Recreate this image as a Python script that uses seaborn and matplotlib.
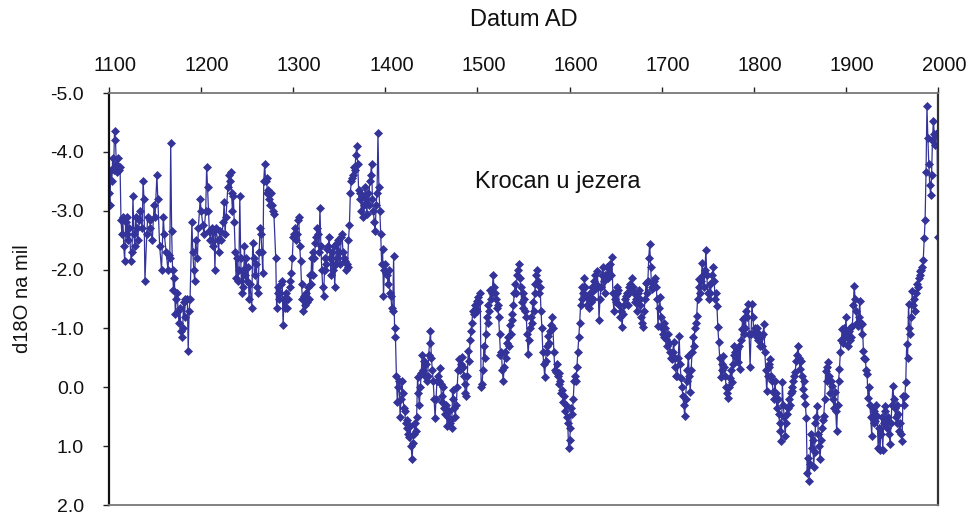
import matplotlib
matplotlib.use("Agg")
import matplotlib.pyplot as plt
import matplotlib.transforms as mtransforms
from matplotlib.ticker import FormatStrFormatter
import pandas as pd
import seaborn as sns

# ---------------- data ----------------
years_1100s = [1100, 1101, 1102, 1103, 1104, 1105, 1106, 1107, 1108, 1109,
               1110, 1111, 1112, 1113, 1114, 1115, 1116, 1117, 1118, 1119,
               1120, 1121, 1122, 1124, 1125, 1126, 1127, 1128, 1129, 1130,
               1131, 1133, 1134, 1136, 1137, 1138, 1139, 1141, 1142, 1144,
               1145, 1147, 1149, 1150, 1152, 1153, 1155, 1157, 1159, 1160,
               1162, 1164, 1165, 1166, 1167, 1168, 1169, 1170, 1171, 1172,
               1173, 1174, 1175, 1176, 1177, 1178, 1179, 1180, 1181, 1182,
               1183, 1185, 1186, 1187, 1188, 1190, 1191, 1192, 1193, 1194,
               1196, 1197, 1199]
d18o_1100s = [-3.3, -3.1, -3.7, -3.5, -3.9, -3.7, -4.35, -4.2, -3.8, -3.65,
              -3.9, -3.7, -3.75, -2.85, -2.6, -2.9, -2.4, -2.15, -2.8, -2.6,
              -2.9, -2.5, -2.7, -2.15, -2.3, -3.25, -2.6, -2.4, -2.9, -2.7,
              -2.5, -2.85, -3.0, -2.7, -3.5, -3.2, -1.8, -2.6, -2.9, -2.85,
              -2.7, -2.5, -3.1, -2.9, -3.6, -3.2, -2.4, -2.0, -2.9, -2.6,
              -2.3, -2.0, -2.25, -2.2, -4.15, -2.65, -2.0, -1.65, -1.85, -1.25,
              -1.5, -1.6, -1.3, -1.1, -1.35, -0.95, -0.85, -1.0, -1.45, -1.2,
              -1.5, -1.5, -0.62, -1.3, -1.5, -2.8, -2.3, -2.0, -1.8, -2.5,
              -2.2, -2.7, -3.2]

years_1200s = [1200, 1202, 1203, 1205, 1206, 1207, 1208, 1209, 1210, 1212,
               1213, 1214, 1215, 1216, 1218, 1219, 1220, 1222, 1224, 1225,
               1226, 1227, 1229, 1230, 1231, 1232, 1233, 1234, 1235, 1236,
               1237, 1238, 1239, 1240, 1241, 1242, 1243, 1244, 1245, 1246,
               1247, 1248, 1249, 1250, 1251, 1252, 1253, 1255, 1256, 1257,
               1258, 1260, 1261, 1262, 1263, 1264, 1265, 1266, 1267, 1268,
               1269, 1270, 1271, 1272, 1273, 1274, 1275, 1276, 1277, 1278,
               1279, 1281, 1282, 1283, 1284, 1285, 1286, 1287, 1288, 1289,
               1290, 1291, 1292, 1293, 1294, 1296, 1297, 1298, 1299]
d18o_1200s = [-3.0, -2.75, -2.6, -3.0, -3.75, -3.4, -3.0, -2.65, -2.5, -2.7,
              -2.4, -2.65, -2.0, -2.7, -2.5, -2.3, -2.65, -2.5, -2.8, -3.15,
              -2.6, -2.9, -3.4, -3.6, -3.5, -3.65, -3.3, -3.0, -3.25, -2.8,
              -2.3, -1.85, -2.2, -1.8, -2.0, -3.25, -2.2, -1.6, -2.0, -1.7,
              -2.4, -1.9, -2.2, -1.8, -2.05, -1.5, -1.75, -1.35, -2.45, -2.2,
              -1.9, -2.1, -1.7, -1.6, -2.3, -2.7, -2.6, -2.3, -1.95, -3.5,
              -3.8, -3.5, -3.55, -3.3, -3.35, -3.2, -3.1, -3.3, -3.1, -3.0,
              -2.95, -2.2, -1.35, -1.6, -1.7, -1.5, -1.6, -1.75, -1.8, -1.05,
              -1.5, -1.35, -1.6, -1.35, -1.5, -1.7, -1.8, -1.95, -2.2]

years_1300s = [1300, 1301, 1302, 1303, 1304, 1305, 1306, 1307, 1308, 1309,
               1310, 1311, 1312, 1313, 1314, 1315, 1316, 1317, 1318, 1319,
               1320, 1321, 1322, 1323, 1324, 1325, 1326, 1327, 1328, 1329,
               1330, 1331, 1332, 1333, 1334, 1335, 1336, 1337, 1338, 1339,
               1340, 1341, 1342, 1343, 1344, 1345, 1346, 1347, 1348, 1349,
               1350, 1351, 1352, 1353, 1354, 1355, 1356, 1357, 1358, 1359,
               1360, 1361, 1362, 1363, 1364, 1365, 1366, 1367, 1368, 1369,
               1370, 1371, 1372, 1373, 1374, 1375, 1376, 1377, 1378, 1379,
               1380, 1381, 1382, 1383, 1384, 1385, 1386, 1387, 1388, 1389,
               1390, 1391, 1392, 1393, 1394, 1395, 1396, 1397, 1398, 1399]
d18o_1300s = [-2.55, -2.6, -2.7, -2.5, -2.6, -2.85, -2.9, -2.4, -2.15, -1.75,
              -1.5, -1.3, -1.55, -1.4, -1.6, -1.45, -1.7, -1.5, -1.9, -1.75,
              -2.2, -1.9, -2.3, -2.2, -2.45, -2.55, -2.7, -2.6, -2.3, -3.05,
              -2.4, -2.0, -1.7, -1.55, -2.0, -2.2, -2.1, -2.35, -2.4, -2.55,
              -2.2, -1.9, -2.3, -2.0, -2.4, -1.7, -2.1, -2.45, -2.2, -2.5,
              -2.3, -2.1, -2.55, -2.6, -2.3, -2.2, -2.15, -2.0, -2.1, -2.05,
              -2.5, -2.75, -3.3, -3.5, -3.55, -3.6, -3.75, -3.7, -3.95, -4.1,
              -3.8, -3.35, -3.2, -3.3, -3.0, -3.25, -2.9, -3.1, -3.4, -3.2,
              -2.95, -3.3, -3.1, -3.5, -3.6, -3.8, -3.2, -3.0, -2.8, -2.65,
              -3.1, -3.3, -4.32, -3.4, -3.0, -2.6, -2.1, -2.35, -1.55, -2.0]

years_1400s = [1400, 1401, 1402, 1403, 1404, 1405, 1406, 1407, 1408, 1409,
               1410, 1411, 1412, 1413, 1414, 1415, 1416, 1417, 1418, 1419,
               1420, 1421, 1422, 1423, 1424, 1425, 1426, 1427, 1428, 1429,
               1430, 1431, 1432, 1433, 1434, 1435, 1436, 1437, 1438, 1439,
               1440, 1441, 1442, 1443, 1444, 1445, 1446, 1447, 1448, 1449,
               1450, 1451, 1452, 1453, 1454, 1455, 1456, 1457, 1458, 1459,
               1460, 1461, 1462, 1463, 1464, 1465, 1466, 1467, 1468, 1469,
               1470, 1471, 1472, 1473, 1474, 1475, 1476, 1477, 1478, 1479,
               1480, 1481, 1482, 1483, 1484, 1485, 1486, 1487, 1488, 1489,
               1490, 1491, 1492, 1493, 1494, 1495, 1496, 1497, 1498, 1499]
d18o_1400s = [-2.1, -1.95, -1.9, -1.75, -2.0, -1.6, -1.55, -1.35, -1.3, -2.23,
              -1.0, -0.85, -0.2, 0.25, 0.0, -0.1, 0.5, 0.2, -0.1, 0.1,
              0.35, 0.4, 0.6, 0.55, 0.7, 0.8, 0.85, 0.65, 1.0, 1.22,
              0.95, 0.8, 0.6, 0.75, 0.5, -0.18, 0.1, 0.3, 0.0, -0.25,
              -0.55, -0.3, -0.45, -0.2, -0.4, -0.1, -0.2, -0.55, -0.75, -0.95,
              -0.5, -0.3, -0.1, 0.2, 0.52, 0.2, -0.1, -0.2, -0.1, -0.32,
              -0.05, 0.15, 0.25, 0.0, 0.35, 0.45, 0.3, 0.65, 0.5, 0.4,
              0.6, 0.55, 0.7, 0.05, 0.2, 0.35, 0.5, 0.3, 0.0, -0.3,
              -0.48, -0.3, -0.4, -0.52, -0.35, -0.2, -0.05, 0.1, 0.14, -0.2,
              -0.62, -0.45, -0.8, -0.95, -1.1, -1.3, -1.25, -1.4, -1.35, -1.46]

years_1500s = [1500, 1501, 1502, 1503, 1504, 1505, 1506, 1507, 1508, 1509,
               1510, 1511, 1512, 1513, 1514, 1515, 1516, 1517, 1518, 1519,
               1520, 1521, 1522, 1523, 1524, 1525, 1526, 1527, 1528, 1529,
               1530, 1531, 1532, 1533, 1534, 1535, 1536, 1537, 1538, 1539,
               1540, 1541, 1542, 1543, 1544, 1545, 1546, 1547, 1548, 1549,
               1550, 1551, 1552, 1553, 1554, 1555, 1556, 1557, 1558, 1559,
               1560, 1561, 1562, 1563, 1564, 1565, 1566, 1567, 1568, 1569,
               1570, 1571, 1572, 1573, 1574, 1575, 1576, 1577, 1578, 1579,
               1580, 1581, 1582, 1583, 1584, 1585, 1586, 1587, 1588, 1589,
               1590, 1591, 1592, 1593, 1594, 1595, 1596, 1597, 1598, 1599]
d18o_1500s = [-1.3, -1.53, -1.45, -1.6, 0.0, -0.05, -0.3, -0.7, -0.5, -0.9,
              -1.2, -1.1, -1.4, -1.3, -1.65, -1.5, -1.6, -1.9, -1.7, -1.6,
              -1.5, -1.35, -1.4, -1.2, -0.9, -0.55, -0.6, -0.3, -0.1, -0.35,
              -0.6, -0.5, -0.75, -0.85, -0.7, -1.05, -0.9, -1.15, -1.25, -1.4,
              -1.6, -1.75, -1.6, -1.9, -2.0, -2.1, -1.85, -1.7, -1.45, -1.6,
              -1.35, -1.5, -1.3, -1.2, -0.9, -0.57, -0.8, -1.0, -1.2, -1.1,
              -1.45, -1.3, -1.6, -1.75, -1.9, -2.0, -1.8, -1.6, -1.7, -1.3,
              -1.0, -0.6, -0.4, -0.18, -0.45, -0.7, -0.6, -0.87, -0.75, -0.95,
              -1.05, -1.2, -1.0, -0.6, -0.3, -0.26, -0.4, -0.2, -0.25, -0.05,
              -0.1, 0.1, 0.05, 0.25, 0.15, 0.4, 0.3, 0.5, 0.6, 1.04]

years_1600s = [1600, 1601, 1602, 1603, 1604, 1605, 1606, 1607, 1608, 1609,
               1610, 1611, 1612, 1613, 1614, 1615, 1616, 1617, 1618, 1619,
               1620, 1621, 1622, 1623, 1624, 1625, 1626, 1627, 1628, 1629,
               1630, 1631, 1632, 1633, 1634, 1635, 1636, 1637, 1638, 1639,
               1640, 1641, 1642, 1643, 1644, 1645, 1646, 1647, 1648, 1649,
               1650, 1651, 1652, 1653, 1654, 1655, 1656, 1657, 1658, 1659,
               1660, 1661, 1662, 1663, 1664, 1665, 1666, 1667, 1668, 1669,
               1670, 1671, 1672, 1673, 1674, 1675, 1676, 1677, 1678, 1679,
               1680, 1681, 1682, 1683, 1684, 1685, 1686, 1687, 1688, 1689,
               1690, 1691, 1692, 1693, 1694, 1695, 1696, 1697, 1698, 1699]
d18o_1600s = [0.9, 0.7, 0.36, 0.45, 0.2, -0.1, -0.2, -0.1, -0.35, -0.6,
              -0.85, -1.1, -1.4, -1.7, -1.5, -1.6, -1.85, -1.7, -1.55, -1.4,
              -1.55, -1.35, -1.6, -1.45, -1.7, -1.5, -1.8, -1.65, -1.9, -1.75,
              -1.97, -1.7, -1.15, -1.5, -1.7, -1.9, -2.05, -1.8, -1.6, -1.9,
              -1.85, -2.05, -1.85, -1.95, -2.1, -1.9, -2.22, -1.6, -1.3, -1.5,
              -1.45, -1.6, -1.7, -1.65, -1.4, -1.2, -1.3, -1.02, -1.25, -1.4,
              -1.5, -1.55, -1.6, -1.4, -1.7, -1.6, -1.75, -1.65, -1.85, -1.7,
              -1.6, -1.45, -1.5, -1.3, -1.6, -1.65, -1.5, -1.4, -1.2, -1.1,
              -1.02, -1.3, -1.5, -1.78, -1.6, -1.8, -2.2, -2.44, -2.05, -1.7,
              -1.67, -1.75, -1.8, -1.85, -1.7, -1.5, -1.04, -1.35, -1.53, -1.2]

years_1700s = [1700, 1701, 1702, 1703, 1704, 1705, 1706, 1707, 1708, 1709,
               1710, 1711, 1712, 1713, 1714, 1715, 1716, 1717, 1718, 1719,
               1720, 1721, 1722, 1723, 1724, 1725, 1726, 1727, 1728, 1729,
               1730, 1731, 1732, 1733, 1734, 1735, 1736, 1737, 1738, 1739,
               1740, 1741, 1742, 1743, 1744, 1745, 1746, 1747, 1748, 1749,
               1750, 1751, 1752, 1753, 1754, 1755, 1756, 1757, 1758, 1759,
               1760, 1761, 1762, 1763, 1764, 1765, 1766, 1767, 1768, 1769,
               1770, 1771, 1772, 1773, 1774, 1775, 1776, 1777, 1778, 1779,
               1780, 1781, 1782, 1783, 1784, 1785, 1786, 1787, 1788, 1789,
               1790, 1791, 1792, 1793, 1794, 1795, 1796, 1797, 1798, 1799]
d18o_1700s = [-1.0, -0.9, -1.1, -0.85, -1.0, -0.82, -0.7, -0.9, -0.75, -0.6,
              -0.5, -0.48, -0.6, -0.77, -0.5, -0.35, -0.2, -0.19, -0.5, -0.87,
              -0.4, -0.15, 0.0, 0.14, 0.3, 0.48, 0.2, -0.1, -0.3, -0.53,
              -0.2, 0.08, -0.3, -0.6, -0.85, -0.7, -1.0, -1.1, -1.21, -1.5,
              -1.7, -1.84, -1.6, -1.8, -2.12, -1.9, -1.7, -2.0, -2.34, -1.9,
              -1.6, -1.5, -1.75, -1.6, -1.78, -1.9, -2.04, -1.8, -1.5, -1.6,
              -1.38, -1.02, -0.77, -0.5, -0.18, -0.3, -0.4, -0.53, -0.35, -0.2,
              0.0, 0.1, 0.19, 0.0, -0.15, -0.3, -0.09, -0.4, -0.55, -0.7,
              -0.6, -0.5, -0.65, -0.43, -0.7, -0.31, -0.8, -0.99, -1.16, -0.9,
              -1.19, -1.0, -1.3, -1.2, -1.41, -0.9, -0.35, -0.9, -1.41, -1.2]

years_1800s = [1800, 1801, 1802, 1803, 1804, 1805, 1806, 1807, 1808, 1809,
               1810, 1811, 1812, 1813, 1814, 1815, 1816, 1817, 1818, 1819,
               1820, 1821, 1822, 1823, 1824, 1825, 1826, 1827, 1828, 1829,
               1830, 1831, 1832, 1833, 1834, 1835, 1836, 1837, 1838, 1839,
               1840, 1841, 1842, 1843, 1844, 1845, 1846, 1847, 1848, 1849,
               1850, 1851, 1852, 1853, 1854, 1855, 1856, 1857, 1858, 1859,
               1860, 1861, 1862, 1863, 1864, 1865, 1866, 1867, 1868, 1869,
               1870, 1871, 1872, 1873, 1874, 1875, 1876, 1877, 1878, 1879,
               1880, 1881, 1882, 1883, 1884, 1885, 1886, 1887, 1888, 1889,
               1890, 1891, 1892, 1893, 1894, 1895, 1896, 1897, 1898, 1899]
d18o_1800s = [-0.94, -1.0, -0.9, -0.85, -1.0, -0.8, -0.9, -0.7, -0.85, -0.7,
              -0.9, -1.07, -0.6, -0.3, 0.06, -0.2, -0.35, -0.4, -0.48, -0.2,
              -0.1, 0.08, 0.2, -0.1, 0.1, 0.36, 0.2, 0.45, 0.6, 0.75,
              0.92, -0.09, 0.3, 0.5, 0.82, 0.6, 0.45, 0.36, 0.2, 0.3,
              0.1, 0.0, 0.06, -0.1, -0.2, -0.26, -0.45, -0.55, -0.7, -0.5,
              -0.31, -0.45, -0.2, 0.03, -0.1, 0.15, 0.28, 0.53, 1.46, 1.2,
              1.6, 1.3, 0.8, 1.04, 0.9, 1.35, 1.1, 0.6, 0.5, 0.31,
              0.8, 1.0, 1.21, 0.9, 0.7, 0.55, 0.48, 0.2, -0.28, -0.1,
              -0.35, -0.43, -0.2, 0.1, -0.1, -0.03, 0.2, 0.35, 0.08, 0.4,
              0.75, 0.3, -0.1, -0.31, -0.6, -0.8, -0.99, -0.75, -1.0, -0.85]

years_1900s = [1900, 1901, 1902, 1903, 1904, 1905, 1906, 1907, 1908, 1909,
               1910, 1911, 1912, 1913, 1914, 1915, 1916, 1917, 1918, 1919,
               1920, 1921, 1922, 1923, 1924, 1925, 1926, 1927, 1928, 1929,
               1930, 1931, 1932, 1933, 1934, 1935, 1936, 1937, 1938, 1939,
               1940, 1941, 1942, 1943, 1944, 1945, 1946, 1947, 1948, 1949,
               1950, 1951, 1952, 1953, 1954, 1955, 1956, 1957, 1958, 1959,
               1960, 1961, 1962, 1963, 1964, 1965, 1966, 1967, 1968, 1969,
               1970, 1971, 1972, 1973, 1974, 1975, 1976, 1977, 1978, 1979,
               1980, 1981, 1982, 1983, 1984, 1985, 1986, 1987, 1988, 1989,
               1990, 1991, 1992, 1993, 1994, 1995, 1996, 1997, 1998, 1999,
               2000]
d18o_1900s = [-1.19, -0.9, -0.7, -0.95, -0.8, -1.0, -0.85, -1.04, -1.4, -1.72,
              -1.5, -1.3, -1.1, -1.04, -1.2, -1.46, -1.1, -0.9, -1.07, -0.62,
              -0.5, -0.48, -0.3, -0.23, 0.19, 0.0, 0.3, 0.5, 0.82, 0.36,
              0.6, 0.4, 0.57, 0.3, 0.48, 1.04, 0.7, 1.07, 0.8, 0.5,
              1.07, 0.6, 0.4, 0.31, 0.55, 0.7, 0.5, 0.8, 0.96, 0.6,
              0.3, -0.03, 0.2, 0.35, 0.5, 0.3, 0.6, 0.45, 0.75, 0.6,
              0.8, 0.91, 0.14, 0.3, 0.15, -0.09, -0.74, -0.5, -1.41, -1.0,
              -0.91, -1.2, -1.63, -1.4, -1.5, -1.29, -1.6, -1.75, -1.7, -1.85,
              -1.9, -1.97, -2.0, -2.05, -2.17, -2.53, -2.85, -3.66, -4.78, -4.24,
              -3.8, -3.44, -3.27, -3.6, -4.2, -4.53, -4.3, -4.12, -4.3, -4.32,
              -2.55]

x_ticks = [1100, 1200, 1300, 1400, 1500, 1600, 1700, 1800, 1900, 2000]
y_ticks = [-5.0, -4.0, -3.0, -2.0, -1.0, 0.0, 1.0, 2.0]
x_title = "Datum AD"
y_title = "d18O na mil"
site_label = "Krocan u jezera"

# ---------------- assemble ----------------
year_parts = [years_1100s, years_1200s, years_1300s, years_1400s, years_1500s,
              years_1600s, years_1700s, years_1800s, years_1900s]
val_parts = [d18o_1100s, d18o_1200s, d18o_1300s, d18o_1400s, d18o_1500s,
             d18o_1600s, d18o_1700s, d18o_1800s, d18o_1900s]
years, vals = [], []
for ys, vs in zip(year_parts, val_parts):
    assert len(ys) == len(vs), (ys[0], len(ys), len(vs))
    years.extend(ys)
    vals.extend(vs)
df = pd.DataFrame({"year": years, "d18o": vals})

# ---------------- style ----------------
sns.set_style("white")
plt.rcParams["font.family"] = ["Liberation Sans", "DejaVu Sans"]
plt.rcParams["axes.unicode_minus"] = False

LINE = "#333399"
fig = plt.figure(figsize=(9.71, 5.16), dpi=100)
ax = fig.add_axes([109 / 971, 1 - 505 / 516, 829 / 971, 412 / 516])

sns.lineplot(data=df, x="year", y="d18o", ax=ax, estimator=None, sort=False,
             color=LINE, linewidth=0.9, marker="D", markersize=4.3,
             markeredgecolor=LINE, markerfacecolor=LINE, markeredgewidth=0.5)

ax.set_xlim(x_ticks[0], x_ticks[-1])
ax.set_ylim(y_ticks[-1], y_ticks[0])
ax.set_xticks(x_ticks)
ax.set_yticks(y_ticks)
ax.yaxis.set_major_formatter(FormatStrFormatter("%.1f"))

ax.xaxis.tick_top()
ax.xaxis.set_label_position("top")
ax.tick_params(axis="x", which="both", top=True, bottom=False, direction="out",
               length=4, width=1, color="#222222", labelsize=14.5, pad=9,
               labelcolor="#111111")
ax.tick_params(axis="y", which="both", left=True, right=False, direction="out",
               length=4, width=1, color="#222222", labelsize=14, pad=14,
               labelcolor="#111111")

offset = mtransforms.ScaledTranslation(6 / 100, 0, fig.dpi_scale_trans)
for lab in ax.get_xticklabels():
    lab.set_transform(lab.get_transform() + offset)

ax.set_xlabel(x_title, fontsize=17, color="#111111")
ax.xaxis.set_label_coords(0.5, 1 + (93 - 20) / 412)
ax.xaxis.label.set_verticalalignment("center")
ax.set_ylabel(y_title, fontsize=14.5, color="#111111")
ax.yaxis.set_label_coords((22 - 109) / 829, 0.5)
ax.yaxis.label.set_verticalalignment("center")

ax.text(1497, -3.48, site_label, fontsize=17, color="#111111",
        ha="left", va="center")

for side, col, lw in [("left", "#111111", 1.6), ("right", "#333333", 1.6),
                      ("top", "#777777", 1.3), ("bottom", "#777777", 1.3)]:
    ax.spines[side].set_visible(True)
    ax.spines[side].set_color(col)
    ax.spines[side].set_linewidth(lw)

ax.grid(False)
fig.savefig("out.png", dpi=100)
